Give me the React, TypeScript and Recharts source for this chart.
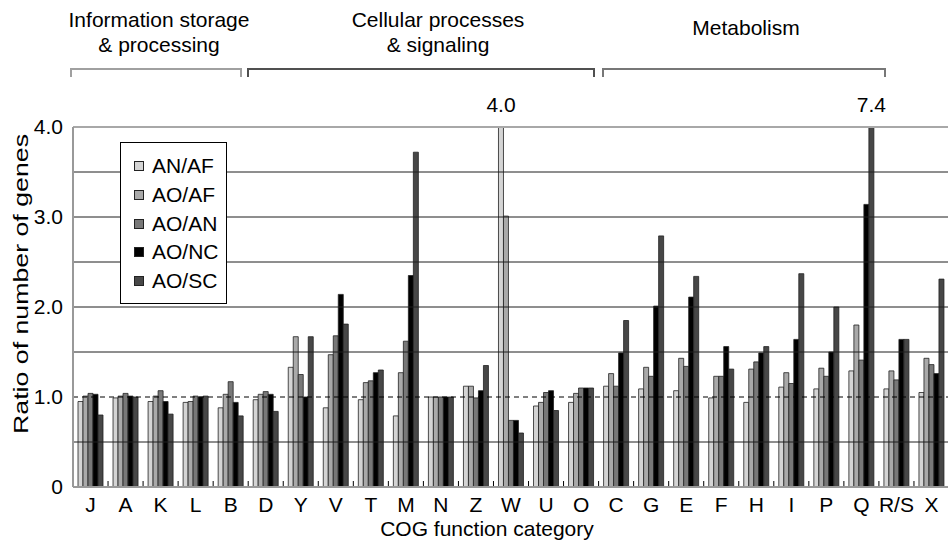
import { Bar, BarChart, LabelList, Legend, ReferenceLine, XAxis, YAxis } from "recharts";

const FONT = "'Liberation Sans', Arial, Helvetica, sans-serif";

const categories = ["J", "A", "K", "L", "B", "D", "Y", "V", "T", "M", "N", "Z", "W", "U", "O", "C", "G", "E", "F", "H", "I", "P", "Q", "R/S", "X"];

const anAf = [0.95, 0.99, 0.95, 0.94, 0.88, 0.97, 1.33, 0.88, 0.97, 0.79, 1.0, 1.12, 4.0, 0.9, 0.94, 1.12, 1.09, 1.07, 0.99, 0.94, 1.11, 1.09, 1.29, 1.09, 1.05];
const aoAf = [1.01, 1.01, 1.01, 0.95, 1.03, 1.03, 1.67, 1.47, 1.16, 1.27, 1.0, 1.12, 3.01, 0.94, 1.04, 1.26, 1.33, 1.43, 1.23, 1.31, 1.27, 1.32, 1.8, 1.29, 1.43];
const aoAn = [1.04, 1.04, 1.07, 1.01, 1.17, 1.06, 1.25, 1.68, 1.18, 1.62, 1.0, 0.99, 0.74, 1.05, 1.1, 1.12, 1.23, 1.34, 1.23, 1.39, 1.15, 1.23, 1.41, 1.19, 1.36];
const aoNc = [1.03, 1.01, 0.95, 1.0, 0.94, 1.03, 1.0, 2.14, 1.27, 2.35, 1.0, 1.07, 0.74, 1.07, 1.1, 1.49, 2.01, 2.11, 1.56, 1.49, 1.64, 1.5, 3.14, 1.64, 1.26];
const aoSc = [0.8, 1.0, 0.81, 1.01, 0.79, 0.84, 1.67, 1.81, 1.3, 3.72, 1.0, 1.35, 0.6, 0.85, 1.1, 1.85, 2.79, 2.34, 1.31, 1.56, 2.37, 2.0, 7.4, 1.64, 2.31];

const seriesNames = ["AN/AF", "AO/AF", "AO/AN", "AO/NC", "AO/SC"];
const seriesColors = ["#d4d4d4", "#a9a9a9", "#787878", "#000000", "#474747"];

const yTicks = [0, 1, 2, 3, 4];
const gridValues = [0.5, 1.5, 2, 2.5, 3, 3.5];

// category groups shown above the plot (bracket extents in px)
const groupHeaders = [
  { lines: ["Information storage", "& processing"], cx: 159, x1: 71, x2: 241, color: "#a0a0a0" },
  { lines: ["Cellular processes", "& signaling"], cx: 438, x1: 248, x2: 594, color: "#505050" },
  { lines: ["Metabolism"], cx: 746, x1: 603, x2: 885, color: "#777777" },
];

const data = categories.map((cat, i) => ({
  cat,
  s0: anAf[i],
  s1: aoAf[i],
  s2: aoAn[i],
  s3: aoNc[i],
  s4: aoSc[i],
}));

const PLOT_LEFT = 73;
const PLOT_TOP = 127;
const PLOT_BOTTOM = 487;
const PLOT_W = 876;
const BAND = PLOT_W / categories.length;

function XTick(props: any) {
  const { x, payload } = props;
  return (
    <g>
      <text x={x} y={512} textAnchor="middle" fontSize={21} fontFamily={FONT} fill="#000">
        {payload.value}
      </text>
      <line x1={x + BAND / 2} x2={x + BAND / 2} y1={PLOT_BOTTOM - 1} y2={PLOT_BOTTOM - 6} stroke="#000" strokeWidth={1} />
    </g>
  );
}

function OverflowLabel(props: any) {
  const { x, width, value } = props;
  if (value == null || value < 4) return null;
  return (
    <text x={Number(x) + Number(width) / 2} y={PLOT_TOP - 15} textAnchor="middle" fontSize={21} fontFamily={FONT} fill="#000">
      {Number(value).toFixed(1)}
    </text>
  );
}

function LegendBox(props: any) {
  const { payload } = props;
  return (
    <div style={{ border: "1px solid #000", background: "#fff", padding: "9px 0 8px 13px", width: 92 }}>
      {(payload || []).map((p: any) => (
        <div key={p.value} style={{ display: "flex", alignItems: "center", height: 28.7, fontSize: 21, fontFamily: FONT, color: "#000" }}>
          <span style={{ width: 8, height: 8, background: p.color, border: "1px solid #222", marginRight: 8 }} />
          {p.value}
        </div>
      ))}
    </div>
  );
}

export default function App() {
  return (
    <div style={{ position: "absolute", left: 0, top: 0, width: 948, height: 543, overflow: "hidden", background: "#fff" }}>
      <BarChart
        width={962}
        height={543}
        data={data}
        margin={{ top: PLOT_TOP, right: 962 - PLOT_LEFT - PLOT_W, left: 13, bottom: 0 }}
        barCategoryGap={5}
        barGap={0}
      >
        <XAxis dataKey="cat" height={543 - PLOT_BOTTOM} tick={<XTick />} tickLine={false} interval={0} axisLine={{ stroke: "#999", strokeWidth: 2 }} />
        <YAxis
          width={60}
          domain={[0, 4]}
          ticks={yTicks}
          allowDataOverflow
          tickFormatter={(v: number) => (v === 0 ? "0" : v.toFixed(1))}
          tick={{ fill: "#000", fontSize: 21, fontFamily: FONT }}
          tickLine={false}
          tickSize={0}
          tickMargin={10}
          axisLine={{ stroke: "#999", strokeWidth: 2 }}
        />
        {gridValues.map((v) => (
          <ReferenceLine key={v} y={v} stroke="#1e1e1e" strokeWidth={1} />
        ))}
        <ReferenceLine y={1} stroke="#000" strokeWidth={1} strokeDasharray="5 4" />
        <ReferenceLine y={4} stroke="#a8a8a8" strokeWidth={2} />
        <Legend
          layout="horizontal"
          verticalAlign="middle"
          align="center"
          content={<LegendBox />}
          wrapperStyle={{ position: "absolute", left: 120, top: 142, width: 107 }}
        />
        {seriesNames.map((name, i) => (
          <Bar
            key={name}
            dataKey={`s${i}`}
            name={name}
            fill={seriesColors[i]}
            stroke="#222"
            strokeWidth={0.8}
            isAnimationActive={false}
          >
            <LabelList dataKey={`s${i}`} content={<OverflowLabel />} />
          </Bar>
        ))}
      </BarChart>
      <svg width={948} height={543} style={{ position: "absolute", left: 0, top: 0, pointerEvents: "none" }}>
        {groupHeaders.map((g) => (
          <g key={g.lines[0]}>
            {g.lines.map((line, j) => (
              <text
                key={line}
                x={g.cx}
                y={g.lines.length === 1 ? 35 : 27 + j * 25}
                textAnchor="middle"
                fontSize={21}
                fontFamily={FONT}
                fill="#000"
              >
                {line}
              </text>
            ))}
            <path d={`M${g.x1},77 V69 H${g.x2} V77`} fill="none" stroke={g.color} strokeWidth={2} />
          </g>
        ))}
        <text
          transform="translate(28,284) rotate(-90)"
          textAnchor="middle"
          fontSize={21}
          fontFamily={FONT}
          fill="#000"
          textLength={300}
          lengthAdjust="spacingAndGlyphs"
        >
          Ratio of number of genes
        </text>
        <text x={487} y={536} textAnchor="middle" fontSize={21} fontFamily={FONT} fill="#000">
          COG function category
        </text>
      </svg>
    </div>
  );
}
